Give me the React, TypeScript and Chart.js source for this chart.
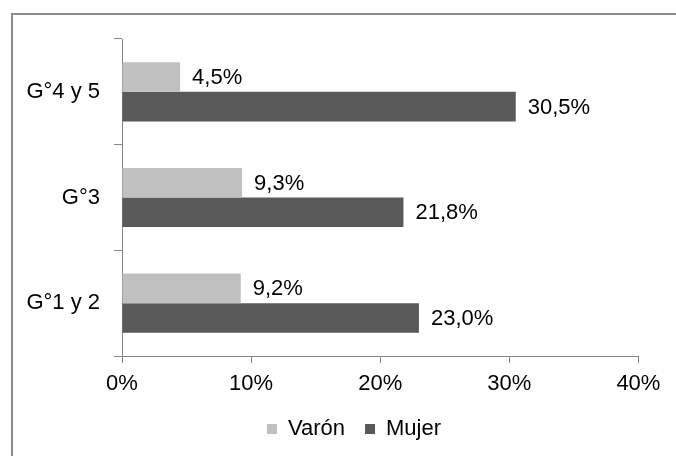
import React, { useEffect, useRef } from "react";
import { Chart, registerables } from "chart.js";

Chart.register(...registerables);

const categories = ["G°4 y 5", "G°3", "G°1 y 2"];
const varonValues = [4.5, 9.3, 9.2];
const mujerValues = [30.5, 21.8, 23.0];
const xTicks = [0, 10, 20, 30, 40];

const FONT = "'Liberation Sans', Arial, sans-serif";
const FS = 22;

const framePlugin = {
  id: "frame",
  beforeDraw(chart: any) {
    const ctx = chart.ctx;
    ctx.save();
    ctx.fillStyle = "#ffffff";
    ctx.fillRect(0, 0, chart.width, chart.height);
    ctx.fillStyle = "#8c8c8c";
    ctx.fillRect(11, 13, chart.width, 2);
    ctx.fillRect(11, 13, 2, chart.height);
    ctx.restore();
  },
};

const legendShiftPlugin = {
  id: "legendShift",
  afterLayout(chart: any) {
    const l = chart.legend;
    if (!l) return;
    const dx = 354 - (l.left + l.right) / 2;
    l.left += dx;
    l.right += dx;
    const dy = 398 - l.top;
    l.top += dy;
    l.bottom += dy;
  },
};

const valueLabelPlugin = {
  id: "valueLabels",
  afterDatasetsDraw(chart: any) {
    const ctx = chart.ctx;
    ctx.save();
    ctx.font = `${FS}px ${FONT}`;
    ctx.fillStyle = "#000000";
    ctx.textAlign = "left";
    ctx.textBaseline = "middle";
    chart.data.datasets.forEach((ds: any, di: number) => {
      const meta = chart.getDatasetMeta(di);
      meta.data.forEach((el: any, i: number) => {
        const v = ds.data[i] as number;
        const txt = v.toFixed(1).replace(".", ",") + "%";
        ctx.fillText(txt, el.x + 12, el.y + 1);
      });
    });
    ctx.restore();
  },
};

export default function App() {
  const ref = useRef<HTMLCanvasElement | null>(null);
  useEffect(() => {
    if (!ref.current) return;
    const chart = new Chart(ref.current, {
      type: "bar",
      data: {
        labels: categories,
        datasets: [
          {
            label: "Varón",
            data: varonValues,
            backgroundColor: "#c0c0c0",
            borderWidth: 0,
            categoryPercentage: 0.56,
            barPercentage: 1,
          },
          {
            label: "Mujer",
            data: mujerValues,
            backgroundColor: "#595959",
            borderWidth: 0,
            categoryPercentage: 0.56,
            barPercentage: 1,
          },
        ],
      },
      options: {
        indexAxis: "y",
        responsive: false,
        animation: false,
        events: [],
        layout: { padding: { left: 10, right: 37.6, top: 39, bottom: 0 } },
        plugins: {
          legend: {
            position: "bottom",
            labels: {
              boxWidth: 10,
              boxHeight: 10,
              padding: 20,
              color: "#000000",
              font: { size: FS, family: FONT },
            },
          },
          tooltip: { enabled: false },
        },
        scales: {
          x: {
            type: "linear",
            min: xTicks[0],
            max: xTicks[xTicks.length - 1],
            afterBuildTicks: (scale: any) => {
              scale.ticks = xTicks.map((v) => ({ value: v }));
            },
            afterFit: (scale: any) => {
              const lg = scale.chart.legend;
              const lh = lg && lg.height ? lg.height : 52;
              scale.height = 456 - lh - 356;
            },
            grid: {
              drawOnChartArea: false,
              drawTicks: true,
              tickLength: 7,
              color: "#868686",
            },
            border: { display: true, color: "#868686", width: 1 },
            ticks: {
              color: "#000000",
              padding: 8,
              font: { size: FS, family: FONT },
              callback: (v: any) => `${v}%`,
            },
          },
          y: {
            type: "category",
            afterFit: (scale: any) => {
              scale.width = 112;
            },
            grid: {
              drawOnChartArea: false,
              drawTicks: true,
              tickLength: 8,
              offset: true,
              color: "#868686",
            },
            border: { display: true, color: "#868686", width: 1 },
            ticks: {
              color: "#000000",
              padding: 14,
              font: { size: FS, family: FONT },
            },
          },
        },
      },
      plugins: [framePlugin, legendShiftPlugin, valueLabelPlugin],
    } as any);
    return () => chart.destroy();
  }, []);
  return (
    <div style={{ position: "fixed", left: 0, top: 0, width: 676, height: 456 }}>
      <canvas ref={ref} width={676} height={456} />
    </div>
  );
}
